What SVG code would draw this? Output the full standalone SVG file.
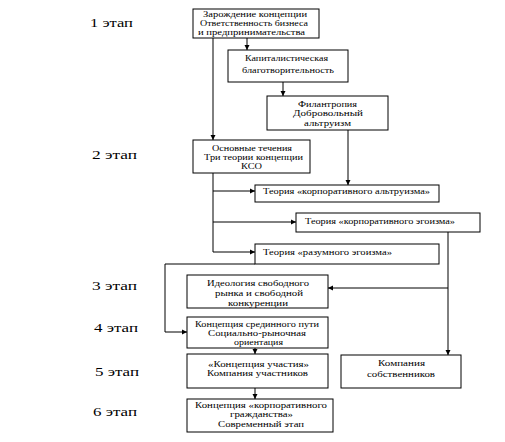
<svg xmlns="http://www.w3.org/2000/svg" width="505" height="442" viewBox="0 0 505 442" font-family="'Liberation Serif', 'DejaVu Serif', serif">
<defs>
<marker id="ah" markerWidth="6" markerHeight="6" refX="5" refY="3" orient="auto" markerUnits="userSpaceOnUse">
<path d="M0,0.5 L5,3 L0,5.5 Z" fill="#000"/>
</marker>
<style>
rect{fill:#fff;stroke:#000;stroke-width:1}
text{font-family:'Liberation Serif','DejaVu Serif',serif;font-size:9px;fill:#000}
.c{text-anchor:middle}
.st{font-size:13px}
.ln{fill:none;stroke:#000;stroke-width:1}
.ar{fill:none;stroke:#000;stroke-width:1;marker-end:url(#ah)}
</style>
</defs>
<rect x="0" y="0" width="505" height="442" style="stroke:none"/>
<g id="stages">
<text class="st" x="90" y="27" textLength="43" lengthAdjust="spacingAndGlyphs">1 этап</text>
<text class="st" x="92" y="159" textLength="45" lengthAdjust="spacingAndGlyphs">2 этап</text>
<text class="st" x="92" y="290" textLength="45" lengthAdjust="spacingAndGlyphs">3 этап</text>
<text class="st" x="94" y="332" textLength="44" lengthAdjust="spacingAndGlyphs">4 этап</text>
<text class="st" x="95" y="376" textLength="44" lengthAdjust="spacingAndGlyphs">5 этап</text>
<text class="st" x="93" y="416" textLength="44" lengthAdjust="spacingAndGlyphs">6 этап</text>
</g>
<g id="connectors">
<path class="ar" d="M247,38 V50"/>
<path class="ar" d="M213,38 V140"/>
<path class="ar" d="M283,82 V96"/>
<path class="ar" d="M348,130 V185"/>
<path class="ln" d="M213,173 V252"/>
<path class="ar" d="M213,191 H255"/>
<path class="ar" d="M213,222 H296"/>
<path class="ar" d="M213,252 H255"/>
<path class="ar" d="M255,264 H165 V332 H187"/>
<path class="ar" d="M448,232 V355"/>
<path class="ar" d="M448,288 H328"/>
<path class="ar" d="M255,348 V354"/>
<path class="ar" d="M255,388 V399"/>
</g>
<g id="n1">
<rect x="193" y="9" width="126" height="29"/>
<text class="c" x="255" y="17" textLength="104" lengthAdjust="spacingAndGlyphs">Зарождение концепции</text>
<text class="c" x="254" y="26" textLength="108" lengthAdjust="spacingAndGlyphs">Ответственность бизнеса</text>
<text class="c" x="251.5" y="35" textLength="107" lengthAdjust="spacingAndGlyphs">и  предпринимательства</text>
</g>
<g id="n2">
<rect x="228" y="50" width="120" height="32"/>
<text class="c" x="286.5" y="61" textLength="83" lengthAdjust="spacingAndGlyphs">Капиталистическая</text>
<text class="c" x="288" y="73" textLength="92" lengthAdjust="spacingAndGlyphs">благотворительность</text>
</g>
<g id="n3">
<rect x="267" y="96" width="121" height="34"/>
<text class="c" x="327.5" y="107" textLength="59" lengthAdjust="spacingAndGlyphs">Филантропия</text>
<text class="c" x="328" y="116" textLength="70" lengthAdjust="spacingAndGlyphs">Добровольный</text>
<text class="c" x="327.5" y="126" textLength="47" lengthAdjust="spacingAndGlyphs">альтруизм</text>
</g>
<g id="n4">
<rect x="193" y="140" width="117" height="33"/>
<text class="c" x="252" y="151" textLength="80" lengthAdjust="spacingAndGlyphs">Основные течения</text>
<text class="c" x="253.5" y="160" textLength="99" lengthAdjust="spacingAndGlyphs">Три теории концепции</text>
<text class="c" x="251.5" y="169" textLength="21" lengthAdjust="spacingAndGlyphs">КСО</text>
</g>
<g id="n5">
<rect x="255" y="185" width="184" height="17"/>
<text x="263" y="194" textLength="167" lengthAdjust="spacingAndGlyphs">Теория «корпоративного альтруизма»</text>
</g>
<g id="n6">
<rect x="296" y="213" width="184" height="19"/>
<text x="305" y="224" textLength="150" lengthAdjust="spacingAndGlyphs">Теория «корпоративного эгоизма»</text>
</g>
<g id="n7">
<rect x="255" y="244" width="184" height="20"/>
<text x="263" y="255" textLength="129" lengthAdjust="spacingAndGlyphs">Теория «разумного эгоизма»</text>
</g>
<g id="n8">
<rect x="187" y="275" width="141" height="33"/>
<text class="c" x="258" y="286" textLength="102" lengthAdjust="spacingAndGlyphs">Идеология свободного</text>
<text class="c" x="259" y="296" textLength="88" lengthAdjust="spacingAndGlyphs">рынка и свободной</text>
<text class="c" x="258" y="306" textLength="60" lengthAdjust="spacingAndGlyphs">конкуренции</text>
</g>
<g id="n9">
<rect x="187" y="317" width="141" height="31"/>
<text class="c" x="257" y="327" textLength="124" lengthAdjust="spacingAndGlyphs">Концепция срединного пути</text>
<text class="c" x="257" y="336" textLength="98" lengthAdjust="spacingAndGlyphs">Социально-рыночная</text>
<text class="c" x="258.5" y="345" textLength="49" lengthAdjust="spacingAndGlyphs">ориентация</text>
</g>
<g id="n10">
<rect x="187" y="354" width="141" height="34"/>
<text class="c" x="258.5" y="367" textLength="101" lengthAdjust="spacingAndGlyphs">«Концепция участия»</text>
<text class="c" x="257.5" y="376" textLength="101" lengthAdjust="spacingAndGlyphs">Компания участников</text>
</g>
<g id="n11">
<rect x="187" y="399" width="146" height="33"/>
<text class="c" x="261" y="408" textLength="132" lengthAdjust="spacingAndGlyphs">Концепция «корпоративного</text>
<text class="c" x="261.5" y="417" textLength="63" lengthAdjust="spacingAndGlyphs">гражданства»</text>
<text class="c" x="261" y="427" textLength="86" lengthAdjust="spacingAndGlyphs">Современный этап</text>
</g>
<g id="n12">
<rect x="341" y="355" width="120" height="33"/>
<text class="c" x="401.5" y="366" textLength="47" lengthAdjust="spacingAndGlyphs">Компания</text>
<text class="c" x="401" y="377" textLength="68" lengthAdjust="spacingAndGlyphs">собственников</text>
</g>
</svg>
